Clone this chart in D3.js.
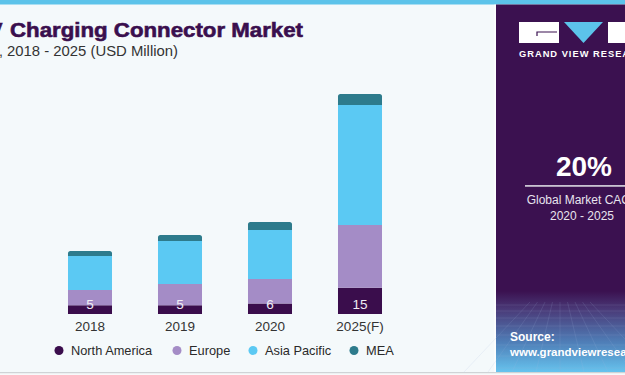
<!DOCTYPE html>
<html><head><meta charset="utf-8">
<script src="https://cdn.jsdelivr.net/npm/d3@7/dist/d3.min.js"></script>
<style>html,body{margin:0;padding:0;background:#f4f9fb;}svg{display:block;font-family:"Liberation Sans",Arial,sans-serif;}</style>
</head><body><svg id="c" width="625" height="375"></svg>
<script>
const categories = ["2018","2019","2020","2025(F)"];
const seriesNames = ["North America","Europe","Asia Pacific","MEA"];
const northAmerica = [5, 5, 6, 15];
const europe = [8.7, 12.1, 14, 35.9];
const asiaPacific = [19.4, 24.6, 28, 68.5];
const mea = [2.9, 3.4, 4.6, 6.3];
const naLabels = ["5","5","6","15"];
const colors = ["#3a0d4c","#a48cc6","#5bc9f3","#2d7b8c"];

const svg = d3.select("#c");
svg.append("rect").attr("width",625).attr("height",375).attr("fill","#f4f9fb");

// top strip
svg.append("rect").attr("x",0).attr("y",0).attr("width",625).attr("height",4.5).attr("fill","#5cc3ea");

// title
svg.append("text").attr("x",2.5).attr("y",37).attr("text-anchor","end").attr("font-size",21).attr("font-weight","bold").attr("fill","#3a0f4e").attr("stroke","#3a0f4e").attr("stroke-width",0.6).text("EV");
svg.append("text").attr("x",10).attr("y",37).attr("font-size",21).attr("font-weight","bold").attr("fill","#3a0f4e").attr("stroke","#3a0f4e").attr("stroke-width",0.6)
  .attr("textLength",293).attr("lengthAdjust","spacingAndGlyphs").text("Charging Connector Market");
svg.append("text").attr("x",3).attr("y",56).attr("text-anchor","end").attr("font-size",14).attr("fill","#333").text("by Region,");
svg.append("text").attr("x",7).attr("y",56).attr("font-size",14).attr("fill","#333")
  .attr("textLength",171).attr("lengthAdjust","spacingAndGlyphs").text("2018 - 2025 (USD Million)");

// scales
const x = d3.scaleBand().domain(categories).range([45,405]).paddingInner(0.511).paddingOuter(0.2555);
const y = d3.scaleLinear().domain([0,130]).range([314, 314-130*1.75]);

const data = categories.map((c,i)=>({cat:c, vals:[northAmerica[i],europe[i],asiaPacific[i],mea[i]]}));
const stackData = categories.map((c,i)=>{const o={cat:c}; seriesNames.forEach((s,j)=>o[s]=data[i].vals[j]); return o;});
const stacked = d3.stack().keys(seriesNames)(stackData);

const g = svg.append("g");
stacked.forEach((layer,li)=>{
  g.selectAll(null).data(layer).enter().append("path")
    .attr("fill",colors[li])
    .attr("d",d=>{
      const x0=x(d.data.cat), w=x.bandwidth(), y0=y(d[0]), y1=y(d[1]);
      const r = li===3 ? 2.5 : 0;
      return `M${x0},${y0}L${x0},${y1+r}Q${x0},${y1} ${x0+r},${y1}L${x0+w-r},${y1}Q${x0+w},${y1} ${x0+w},${y1+r}L${x0+w},${y0}Z`;
    });
});

// value labels
g.selectAll(null).data(categories).enter().append("text")
  .attr("x",d=>x(d)+x.bandwidth()/2).attr("y",y(0)-5.5)
  .attr("text-anchor","middle").attr("font-size",13.5).attr("fill","#f0eef4")
  .text((d,i)=>naLabels[i]);

// x axis
const xa = svg.append("g").attr("transform",`translate(0,${y(0)})`).call(d3.axisBottom(x).tickSize(0).tickPadding(5));
xa.select(".domain").remove();
xa.selectAll("text").attr("font-size",13.5).attr("fill","#333").attr("font-family","Liberation Sans, Arial, sans-serif").attr("dy","0.9em");

// legend
const legX = [59,177,253,354];
const lg = svg.append("g");
seriesNames.forEach((s,i)=>{
  lg.append("circle").attr("cx",legX[i]).attr("cy",350.5).attr("r",4.5).attr("fill",colors[i]);
  lg.append("text").attr("x",legX[i]+12).attr("y",355).attr("font-size",12.8).attr("fill","#2a2a2a").text(s);
});

// bottom line
svg.append("rect").attr("x",0).attr("y",372).attr("width",625).attr("height",1.5).attr("fill","#cfd3d6");
svg.append("rect").attr("x",0).attr("y",373.5).attr("width",625).attr("height",2).attr("fill","#f7f9fa");

// right panel
const defs = svg.append("defs");
const grad = defs.append("linearGradient").attr("id","pg").attr("x1",0).attr("y1",0).attr("x2",0).attr("y2",1);
grad.append("stop").attr("offset","0").attr("stop-color","#3b1150");
grad.append("stop").attr("offset","0.78").attr("stop-color","#3b1150");
grad.append("stop").attr("offset","0.83").attr("stop-color","#4a3a78");
grad.append("stop").attr("offset","0.92").attr("stop-color","#4f7fb8");
grad.append("stop").attr("offset","1").attr("stop-color","#66c3ee");
svg.append("rect").attr("x",494.5).attr("y",4.5).attr("width",1.2).attr("height",367.5).attr("fill","#ffffff");
svg.append("rect").attr("x",496).attr("y",4.5).attr("width",129).attr("height",367.5).attr("fill","url(#pg)");
// faint grid lines
const gridG = svg.append("g").attr("stroke","#9fb7e0").attr("stroke-opacity",0.25).attr("stroke-width",0.6).attr("fill","none");
[305,311,318,326,335,345,356,368].forEach(yy=>gridG.append("line").attr("x1",496).attr("x2",625).attr("y1",yy).attr("y2",yy));
[500,515,530,545,560,575,590,605,620].forEach((xx,i)=>gridG.append("line").attr("x1",560+(xx-560)*0.5).attr("y1",302).attr("x2",xx+(xx-560)*0.6).attr("y2",372));

// logo
svg.append("rect").attr("x",519).attr("y",22).attr("width",40).attr("height",21).attr("fill","#fff");
svg.append("path").attr("d","M537,36 L537,32 L557,32").attr("stroke","#3b1150").attr("stroke-width",1.2).attr("fill","none");
svg.append("path").attr("d","M564,22 L603,22 L583.5,43 Z").attr("fill","#5cc3ea");
svg.append("rect").attr("x",608).attr("y",22).attr("width",40).attr("height",21).attr("fill","#fff");
svg.append("text").attr("x",519).attr("y",57).attr("font-size",9.3).attr("font-weight","bold").attr("letter-spacing",1).attr("fill","#fff").text("GRAND VIEW RESEARCH");

svg.append("text").attr("x",584).attr("y",176).attr("text-anchor","middle").attr("font-size",28).attr("font-weight","bold").attr("fill","#fff").text("20%");
svg.append("rect").attr("x",525).attr("y",185).attr("width",110).attr("height",1.8).attr("fill","#c9c3d1");
svg.append("text").attr("x",583).attr("y",204).attr("text-anchor","middle").attr("font-size",12).attr("fill","#e8e4ee").text("Global Market CAGR");
svg.append("text").attr("x",582).attr("y",220).attr("text-anchor","middle").attr("font-size",12).attr("fill","#e8e4ee").text("2020 - 2025");

svg.append("text").attr("x",510).attr("y",341).attr("font-size",12).attr("font-weight","bold").attr("fill","#fff").text("Source:");
svg.append("text").attr("x",510).attr("y",356).attr("font-size",11.5).attr("font-weight","bold").attr("fill","#fff").text("www.grandviewresearch.com");
</script></body></html>
